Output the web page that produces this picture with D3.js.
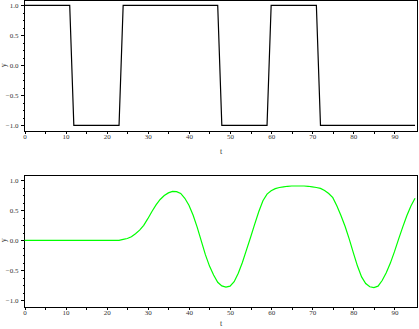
<!DOCTYPE html>
<html>
<head>
<meta charset="utf-8">
<script src="https://cdn.jsdelivr.net/npm/d3@7"></script>
<style>
  body { margin: 0; background: #fff; }
  svg { display: block; }
  .tick text, .lbl { font-family: "Liberation Serif", "DejaVu Serif", serif; fill: #333; }
</style>
</head>
<body>
<div id="chart"></div>
<script>
// sample times 0..95
const tValues = d3.range(0, 96);

// input square wave (t = 0..95)
const squareWave = [
  1,1,1,1,1,1,1,1,1,1,1,1,
  -1,-1,-1,-1,-1,-1,-1,-1,-1,-1,-1,-1,
  1,1,1,1,1,1,1,1,1,1,1,1,1,1,1,1,1,1,1,1,1,1,1,1,
  -1,-1,-1,-1,-1,-1,-1,-1,-1,-1,-1,-1,
  1,1,1,1,1,1,1,1,1,1,1,1,
  -1,-1,-1,-1,-1,-1,-1,-1,-1,-1,-1,-1,-1,-1,-1,-1,-1,-1,-1,-1,-1,-1,-1,-1
];

// response (t = 0..95)
const response = [
  0,0,0,0,0,0,0,0,0,0,0,0,0,0,0,0,0,0,0,0,0,0,0,0,
  0.015,0.03,0.06,0.11,0.17,0.25,0.36,0.48,0.59,0.68,0.745,0.79,
  0.815,0.81,0.78,0.70,0.585,0.42,0.22,-0.01,-0.24,-0.43,-0.58,-0.70,
  -0.76,-0.78,-0.765,-0.69,-0.55,-0.37,-0.16,0.05,0.27,0.48,0.66,0.77,
  0.825,0.86,0.88,0.89,0.90,0.905,0.905,0.905,0.905,0.90,0.89,0.88,
  0.865,0.83,0.78,0.71,0.57,0.41,0.23,0.02,-0.21,-0.43,-0.61,-0.72,
  -0.775,-0.79,-0.765,-0.67,-0.54,-0.38,-0.19,0.02,0.22,0.41,0.57,0.70
];

const xMajor = d3.range(0, 91, 10);
const xMinor = d3.range(5, 90, 10);
const yMajor = [-1, -0.5, 0, 0.5, 1];
const yMinor = d3.range(-1, 1.001, 0.125).filter(v => Math.abs(v * 2 - Math.round(v * 2)) > 1e-6);

const W = 419, H = 329;
const svg = d3.select("#chart").append("svg").attr("width", W).attr("height", H);

const x = d3.scaleLinear().domain([0, 95.6]).range([24.5, 417.5]);

const fmt = v => (v < 0 ? "\u2212" : "") + Math.abs(v).toFixed(1);

function panel(top, bottom, yDomain, values, color, titleGap) {
  const y = d3.scaleLinear().domain(yDomain).range([bottom, top]);
  const g = svg.append("g");

  // frame
  g.append("rect")
    .attr("x", x.range()[0]).attr("y", top)
    .attr("width", x.range()[1] - x.range()[0]).attr("height", bottom - top)
    .attr("fill", "none").attr("stroke", "#000").attr("stroke-width", 1)
    .attr("shape-rendering", "crispEdges");

  // x axis
  g.append("g").attr("transform", `translate(0,${bottom})`)
    .call(d3.axisBottom(x).tickValues(xMajor).tickSize(3).tickPadding(0).tickFormat(d3.format("d")));
  g.append("g").attr("transform", `translate(0,${bottom})`)
    .call(d3.axisBottom(x).tickValues(xMinor).tickSize(3).tickFormat(""));

  // y axis
  g.append("g").attr("transform", `translate(${x.range()[0]},0)`)
    .call(d3.axisLeft(y).tickValues(yMajor).tickSize(4).tickPadding(2).tickFormat(fmt));
  g.append("g").attr("transform", `translate(${x.range()[0]},0)`)
    .call(d3.axisLeft(y).tickValues(yMinor).tickSize(2).tickFormat(""));

  g.selectAll(".domain").remove();
  g.selectAll(".tick line").attr("stroke", "#000").attr("shape-rendering", "crispEdges");
  g.selectAll(".tick text").attr("font-size", "7px");

  // axis titles
  g.append("text").attr("class", "lbl")
    .attr("x", (x.range()[0] + x.range()[1]) / 2).attr("y", bottom + titleGap)
    .attr("text-anchor", "middle").attr("font-size", "8px").text("t");
  g.append("text").attr("class", "lbl")
    .attr("transform", `translate(6,${y(0)}) rotate(-90)`)
    .attr("text-anchor", "middle").attr("font-size", "8px").text("y");

  const line = d3.line().x((d, i) => x(tValues[i])).y(d => y(d));
  g.append("path")
    .datum(values)
    .attr("d", line)
    .attr("fill", "none")
    .attr("stroke", color)
    .attr("stroke-width", 1.2);
}

panel(0.5, 131, [-1.095, 1.08], squareWave, "#000", 23);
panel(175, 307, [-1.112, 1.088], response, "#00ff00", 19);
</script>
</body>
</html>
